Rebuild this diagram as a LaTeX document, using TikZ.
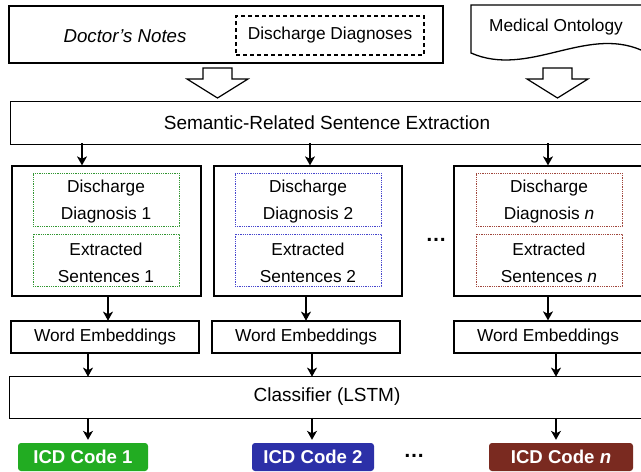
\documentclass[tikz,border=0pt]{standalone}
\usepackage{fontspec}
\setmainfont{Liberation Sans}
\usetikzlibrary{calc,arrows.meta}
\definecolor{dgreen}{RGB}{50,150,50}
\definecolor{dblue}{RGB}{70,70,205}
\definecolor{dred}{RGB}{160,70,60}
\definecolor{fgreen}{RGB}{34,172,34}
\definecolor{fblue}{RGB}{44,48,168}
\definecolor{fred}{RGB}{122,42,32}
\tikzset{
  box/.style={draw, line width=1.3pt, inner sep=0pt},
  txt/.style={font=\fontsize{17.3}{27}\selectfont, inner sep=0pt, align=center},
  bigtxt/.style={font=\fontsize{19}{24}\selectfont, inner sep=0pt, align=center},
  inbox/.style={draw=#1, line width=1pt, dash pattern=on 1pt off 0.8pt, inner sep=0pt,
    minimum width=146pt},
  icd/.style={fill=#1, rounded corners=3pt, text=white, minimum height=28pt, inner sep=0pt,
    font=\fontsize{18.6}{20}\selectfont\bfseries},
  arr/.style={line width=1.3pt, -{Stealth[length=9pt,width=10pt,inset=2.5pt]}},
  hollow/.style={draw, line width=1.2pt, fill=white, line join=miter},
  dots/.style={font=\fontsize{21}{21}\selectfont\bfseries, inner sep=0pt}
}
\begin{document}
\begin{tikzpicture}[x=1pt,y=-1pt]
\useasboundingbox (0,0) rectangle (641,472);
\clip (0,0) rectangle (641,472);
\fill[white] (0,0) rectangle (641,472);
% top: doctor's notes
\node[box, minimum width=434pt, minimum height=57pt] (doc) at (226,34.5) {};
\node[txt, font=\fontsize{18.7}{27}\selectfont\itshape] (doct) at (125,36) {Doctor's Notes};
\node[draw, line width=1.2pt, dash pattern=on 4pt off 3pt, minimum width=188pt, minimum height=39pt,
  txt] (dd) at (330,35.5) {Discharge Diagnoses};
% medical ontology document
\draw[line width=1.3pt] (680,5) -- (471,5) -- (471,53)
  .. controls (528,78) and (585,26) .. (641,50) -- (680,60);
\node[txt] (onto) at (556,27) {Medical Ontology};
% hollow arrows
\draw[hollow] (203,68) -- (232,68) -- (232,79) -- (248,79) -- (217.5,98) -- (187,79) -- (203,79) -- cycle;
\draw[hollow] (543,68) -- (572,68) -- (572,79) -- (588,79) -- (557.5,98) -- (527,79) -- (543,79) -- cycle;
% semantic extraction
\node[box, anchor=north west, minimum width=660pt, minimum height=43pt] (sem) at (10,101) {};
\node[bigtxt] (semt) at (327,123) {Semantic-Related Sentence Extraction};
% middle boxes
\node[box, minimum width=189pt, minimum height=130pt] (b1) at (106.5,231) {};
\node[box, minimum width=188pt, minimum height=130pt] (b2) at (308,231) {};
\node[box, minimum width=188pt, minimum height=130pt] (b3) at (548,231) {};
\node[inbox=dgreen, minimum height=53pt] (d1) at (106,199.5) {};
\node[inbox=dgreen, minimum height=52pt] (e1) at (106,260) {};
\node[inbox=dblue, minimum height=53pt] (d2) at (308,199.5) {};
\node[inbox=dblue, minimum height=52pt] (e2) at (308,260) {};
\node[inbox=dred, minimum height=53pt] (d3) at (549,199.5) {};
\node[inbox=dred, minimum height=52pt] (e3) at (549,260) {};
\node[txt] (d1t) at (106,202) {Discharge\\Diagnosis 1};
\node[txt] (e1t) at (106,262.5) {Extracted\\Sentences 1};
\node[txt] (d2t) at (308,202) {Discharge\\Diagnosis 2};
\node[txt] (e2t) at (308,262.5) {Extracted\\Sentences 2};
\node[txt] (d3t) at (549,202) {Discharge\\Diagnosis \textit{n}};
\node[txt] (e3t) at (549,262.5) {Extracted\\Sentences \textit{n}};
\node[dots] (dm) at (436,240) {\char"2026};
% arrows sem -> boxes
\draw[arr] ($(b1.north)+(-24.5,-22)$) -- ($(b1.north)+(-24.5,0)$);
\draw[arr] ($(b2.north)+(2,-22)$) -- ($(b2.north)+(2,0)$);
\draw[arr] ($(b3.north)+(0,-22)$) -- (b3.north);
% word embeddings
\node[box, txt, minimum width=188pt, minimum height=32pt] (w1) at (105,337) {Word Embeddings};
\node[box, txt, minimum width=188pt, minimum height=32pt] (w2) at (306,337) {Word Embeddings};
\node[box, minimum width=188pt, minimum height=32pt] (w3) at (548,337) {};
\node[txt] (w3t) at (548,337) {Word Embeddings};
\draw[arr] ($(b1.south)+(1.5,0)$) -- ($(b1.south)+(1.5,24)$);
\draw[arr] ($(b2.south)+(-2,0)$) -- ($(b2.south)+(-2,24)$);
\draw[arr] (b3.south) -- (w3.north);
% classifier
\node[box, anchor=north west, minimum width=660pt, minimum height=42pt] (cls) at (9,376) {};
\node[bigtxt] (clst) at (327,397) {Classifier (LSTM)};
\draw[arr] ($(w1.south)+(-17,0)$) -- ($(w1.south)+(-17,23)$);
\draw[arr] ($(w2.south)+(6,0)$) -- ($(w2.south)+(6,23)$);
\draw[arr] ($(w3.south)+(8,0)$) -- ($(w3.south)+(8,23)$);
% ICD codes
\node[icd=fgreen, minimum width=130pt] (i1) at (83,457) {ICD Code 1};
\node[icd=fblue, minimum width=122pt] (i2) at (313,457) {ICD Code 2};
\node[icd=fred, minimum width=144pt] (i3) at (561,457) {ICD Code \textit{n}};
\node[dots] (db) at (414,456) {\char"2026};
\draw[arr] ($(i1.north)+(5,-25)$) -- ($(i1.north)+(5,-3)$);
\draw[arr] ($(i2.north)+(-1,-25)$) -- ($(i2.north)+(-1,-3)$);
\draw[arr] ($(i3.north)+(-5,-25)$) -- ($(i3.north)+(-5,-3)$);
\end{tikzpicture}
\end{document}
